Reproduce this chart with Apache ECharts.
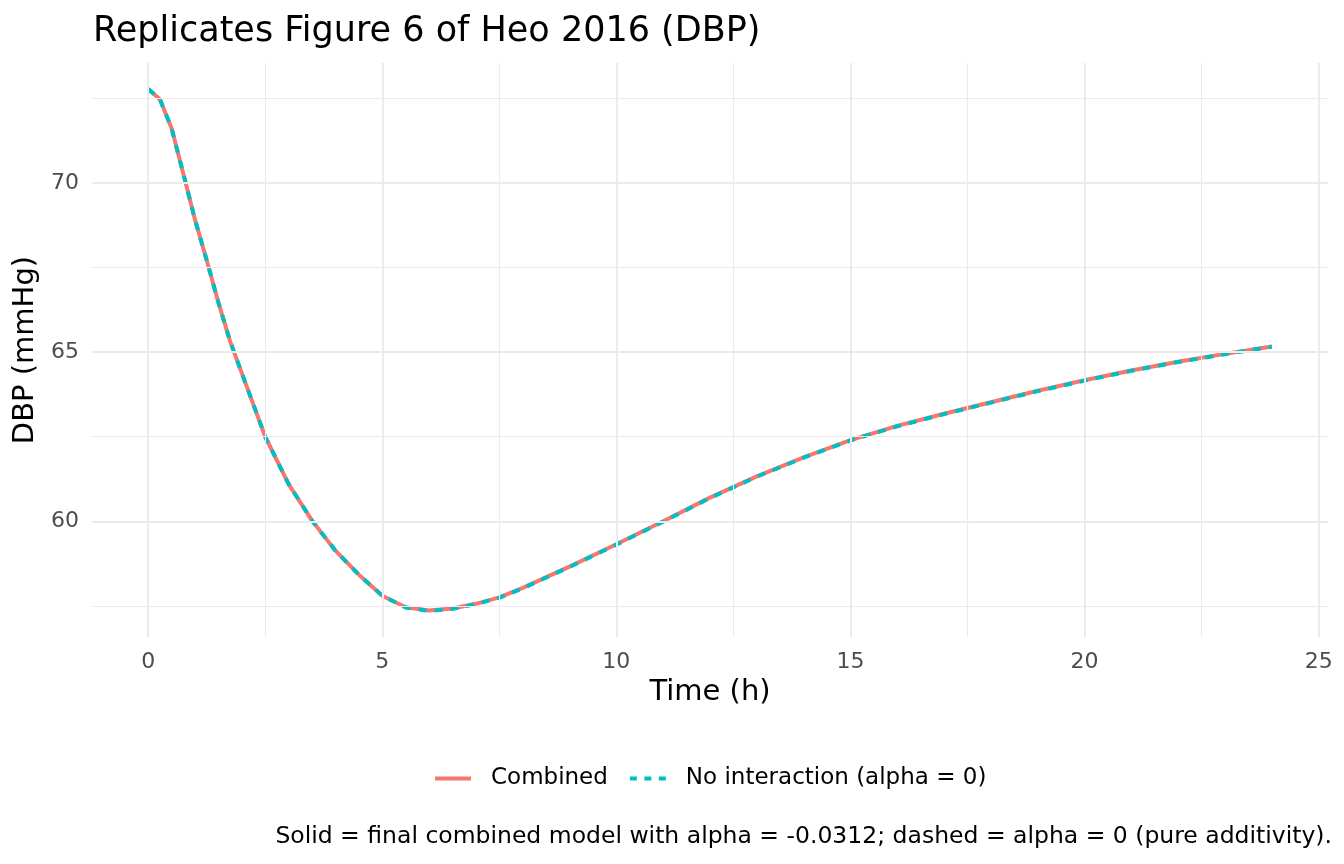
<!DOCTYPE html>
<html lang="en">

<head>
  <meta charset="UTF-8">
  <title>Heo 2016 DBP</title>
  <script src="https://cdn.jsdelivr.net/npm/echarts@6/dist/echarts.min.js"></script>
  <style>
    * {
      padding: 0;
      margin: 0;
    }

    #box {
      width: 1344px;
      height: 864px;
      background: #fff;
    }
  </style>
</head>

<body>
  <div id="box"></div>
  <script>
    // time (h) and DBP (mmHg)
    var timeH = [0, 0.25, 0.5, 0.75, 1, 1.25, 1.5, 1.75, 2, 2.5, 3, 3.5, 4, 4.5, 5, 5.5, 6, 6.5, 7, 7.5, 8,
      9, 10, 11, 12, 13, 14, 15, 16, 17, 18, 19, 20, 21, 22, 23, 24]
    var dbpCombined = [72.78, 72.48, 71.62, 70.28, 68.92, 67.72, 66.47, 65.32, 64.38, 62.5, 61.1, 60.02, 59.13,
      58.42, 57.8, 57.46, 57.36, 57.42, 57.56, 57.75, 58.03, 58.66, 59.32, 60.0, 60.7, 61.33, 61.89, 62.4,
      62.82, 63.18, 63.52, 63.86, 64.17, 64.46, 64.72, 64.95, 65.17]
    var dbpNoInteraction = [72.78, 72.48, 71.62, 70.28, 68.92, 67.72, 66.47, 65.32, 64.38, 62.5, 61.1, 60.02, 59.13,
      58.42, 57.8, 57.45, 57.35, 57.41, 57.55, 57.74, 58.02, 58.65, 59.31, 59.99, 60.69, 61.32, 61.88, 62.39,
      62.81, 63.17, 63.51, 63.85, 64.16, 64.45, 64.71, 64.94, 65.16]
    var seriesNames = ['Combined', 'No interaction (alpha = 0)']
    var xMajor = [0, 5, 10, 15, 20, 25]
    var xMinor = [2.5, 7.5, 12.5, 17.5, 22.5]
    var yMajor = [60, 65, 70]
    var yMinor = [57.5, 62.5, 67.5, 72.5]

    var font = 'DejaVu Sans'

    function pairs(vals) {
      var out = []
      for (let i = 0; i < timeH.length; i++) {
        out.push([timeH[i], vals[i]])
      }
      return out
    }

    // ggplot style 5% expansion of the data range
    var allY = dbpCombined.concat(dbpNoInteraction)
    var yLo = Math.min.apply(null, allY), yHi = Math.max.apply(null, allY)
    var yPad = (yHi - yLo) * 0.05
    var xLo = timeH[0], xHi = timeH[timeH.length - 1]
    var xPad = (xHi - xLo) * 0.05

    var gridLines = []
    xMajor.forEach(function (v) { gridLines.push({ xAxis: v, lineStyle: { width: 2 } }) })
    xMinor.forEach(function (v) { gridLines.push({ xAxis: v, lineStyle: { width: 1.1 } }) })
    yMajor.forEach(function (v) { gridLines.push({ yAxis: v, lineStyle: { width: 2 } }) })
    yMinor.forEach(function (v) { gridLines.push({ yAxis: v, lineStyle: { width: 1.1 } }) })

    var mCharts = echarts.init(document.getElementById('box'))
    var option = {
      animation: false,
      backgroundColor: '#fff',
      title: [{
        text: 'Replicates Figure 6 of Heo 2016 (DBP)',
        left: 88,
        top: 9,
        textStyle: { fontFamily: font, fontSize: 35, fontWeight: 'normal', color: '#000' }
      }, {
        text: 'Solid = final combined model with alpha = -0.0312; dashed = alpha = 0 (pure additivity).',
        right: 7,
        top: 820,
        textStyle: { fontFamily: font, fontSize: 23.5, fontWeight: 'normal', color: '#000' }
      }],
      legend: {
        data: [
          { name: seriesNames[0], icon: 'path://M0,0h36v4H0z', itemStyle: { color: '#F8766D' } },
          { name: seriesNames[1], icon: 'path://M0,0h7v4H0z M14.5,0h7v4h-7z M29,0h7v4h-7z', itemStyle: { color: '#00BFC4' } }
        ],
        bottom: 69,
        left: 430,
        itemWidth: 36,
        itemHeight: 4,
        itemGap: 22,
        textStyle: { fontFamily: font, fontSize: 23, color: '#000', padding: [0, 0, 0, 15] }
      },
      grid: {
        left: 92,
        right: 16,
        top: 63,
        bottom: 227
      },
      xAxis: {
        type: 'value',
        min: xLo - xPad,
        max: xHi + xPad,
        name: 'Time (h)',
        nameLocation: 'middle',
        nameGap: 40,
        nameTextStyle: { fontFamily: font, fontSize: 29, color: '#000' },
        axisLine: { show: false },
        axisTick: { show: false },
        splitLine: { show: false },
        axisLabel: {
          customValues: xMajor,
          margin: 14,
          fontFamily: font,
          fontSize: 22,
          color: '#4D4D4D'
        }
      },
      yAxis: {
        type: 'value',
        min: yLo - yPad,
        max: yHi + yPad,
        name: 'DBP (mmHg)',
        nameLocation: 'middle',
        nameGap: 47,
        nameTextStyle: { fontFamily: font, fontSize: 29, color: '#000' },
        axisLine: { show: false },
        axisTick: { show: false },
        splitLine: { show: false },
        axisLabel: {
          customValues: yMajor,
          margin: 13,
          fontFamily: font,
          fontSize: 22,
          color: '#4D4D4D'
        }
      },
      series: [{
        // background grid only
        type: 'line',
        data: [],
        z: 0,
        silent: true,
        markLine: {
          silent: true,
          symbol: ['none', 'none'],
          label: { show: false },
          lineStyle: { type: 'solid', color: '#EBEBEB' },
          data: gridLines
        }
      }, {
        name: seriesNames[0],
        type: 'line',
        data: pairs(dbpCombined),
        showSymbol: false,
        symbol: 'none',
        z: 3,
        color: '#F8766D',
        lineStyle: { color: '#F8766D', width: 4 }
      }, {
        name: seriesNames[1],
        type: 'line',
        data: pairs(dbpNoInteraction),
        showSymbol: false,
        symbol: 'none',
        z: 4,
        color: '#00BFC4',
        lineStyle: { color: '#00BFC4', width: 4, type: [8, 8] }
      }]
    }
    mCharts.setOption(option)
  </script>
</body>

</html>
